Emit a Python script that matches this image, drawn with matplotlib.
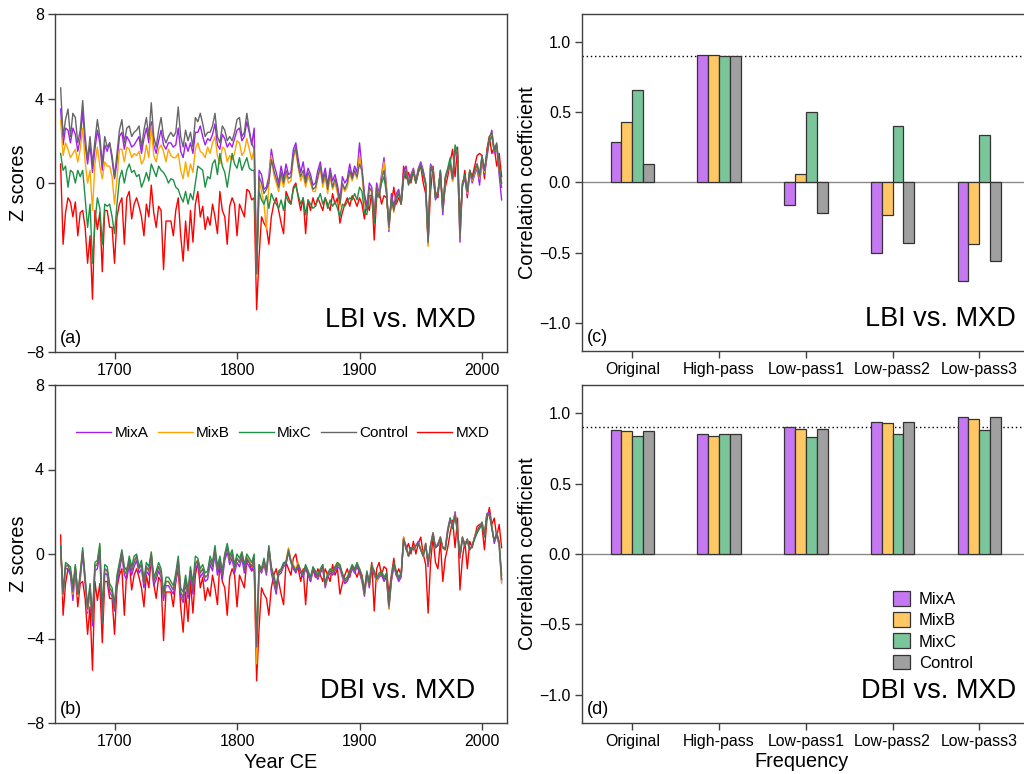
import numpy as np
import matplotlib
matplotlib.use("Agg")
import matplotlib.pyplot as plt
from matplotlib.lines import Line2D
from matplotlib.patches import Patch

plt.rcParams['font.family'] = ['Liberation Sans', 'DejaVu Sans']

# ---------------------------------------------------------------- data
# series every second year, 1656 .. 2016
years = np.arange(1656, 2017, 2)

mxd = [
    0.9, -2.9, -1.4, -0.7, -0.9, -1.6, -0.9, -2.5, -1.4, -1.3,
    -2.1, -3.8, -2.5, -5.5, -1.3, -2.2, -1.4, -4.2, -1.3, -1.3,
    -2.1, -2.1, -3.8, -1.6, -1.0, -0.7, -2.9, -0.7, -0.4, -1.7,
    -1.0, -0.7, -1.1, -1.6, -2.5, -1.0, -1.6, -0.1, -1.4, -2.1,
    -1.1, -1.3, -4.1, -1.8, -1.8, -1.8, -2.5, -1.3, -0.7, -2.5,
    -3.7, -1.8, -3.2, -1.3, -2.8, -1.0, -0.4, -1.6, -1.1, -2.2,
    -1.6, -2.0, -1.0, -1.6, -2.4, -0.4, -1.3, -1.6, -2.9, -1.1,
    -0.7, -1.0, -2.5, -1.0, -1.3, -1.6, -0.3, -0.4, -0.8, -0.7,
    -6.0, -3.5, -1.6, -1.9, -2.1, -2.9, -1.6, -1.0, -0.7, -1.3,
    -1.9, -2.4, -0.4, -0.7, -1.0, -0.2, 0.0, -0.7, -1.3, -0.7,
    -2.4, -0.8, -1.3, -0.7, -1.1, -0.7, -1.0, -1.3, -0.7, -1.0,
    -1.3, -0.5, -1.0, -0.7, -1.9, -1.4, -1.0, -0.7, -1.1, -0.6,
    -0.8, -1.1, -0.7, -1.0, -1.7, -0.9, -1.3, -0.4, -2.7, -0.7,
    -0.4, -1.0, -0.6, -0.7, -1.9, -1.0, -0.2, -1.0, -0.7, -1.0,
    0.8, 0.2, 0.5, 0.0, 0.6, 0.0, 0.5, 0.8, 0.0, -0.5,
    -2.8, -0.4, 0.8, -0.4, -0.7, 0.6, -1.3, -0.2, 0.3, 1.0,
    1.6, 0.3, 1.7, -1.7, -0.2, 0.6, -0.7, 0.6, 0.3, 0.8,
    1.3, 1.4, 1.3, 0.2, 1.6, 2.2, 1.4, 1.7, 0.8, 1.4,
    0.3,
]

# (a) LBI
lbi_control = [
    4.5, 2.2, 3.0, 3.5, 2.2, 3.3, 3.1, 1.9, 2.5, 3.9,
    2.2, 1.1, 2.2, 0.9, 2.0, 3.0, 2.2, 0.9, 2.2, 1.7,
    1.9, 1.3, 0.3, 1.4, 2.5, 3.0, 1.9, 2.6, 2.7, 2.2,
    2.4, 2.5, 2.7, 1.7, 2.5, 3.1, 2.2, 3.8, 2.2, 1.7,
    2.5, 3.1, 2.2, 1.9, 2.2, 2.4, 2.2, 2.4, 3.6, 2.2,
    1.7, 2.5, 2.0, 2.4, 1.7, 3.1, 2.9, 3.3, 2.8, 2.2,
    2.4, 2.4, 2.7, 3.3, 2.2, 1.9, 2.7, 2.5, 2.0, 2.2,
    2.0, 2.4, 3.0, 3.1, 2.2, 2.4, 3.3, 2.5, 1.9, 1.6,
    -4.3, 0.3, 0.0, -0.5, -0.3, 0.0, 1.1, 0.6, 0.2, -0.2,
    0.5, 0.0, 0.6, 0.2, 0.3, 1.3, 1.7, 0.8, 0.3, 0.6,
    0.0, 0.5, 0.2, -0.3, -0.2, 0.3, 0.8, 0.0, 0.5, -0.3,
    0.5, -0.2, 0.2, -0.3, -1.0, 0.0, -0.3, 0.0, 0.6, 0.2,
    0.6, 0.3, 0.9, 0.6, -0.7, -1.3, -0.2, -0.4, -1.6, -0.2,
    -0.7, 0.2, 0.6, -0.4, -2.1, -0.7, -1.3, -0.7, -0.4, -1.0,
    0.3, 0.6, 0.0, 0.3, 0.6, 0.0, 0.6, 0.9, 0.5, 0.0,
    -2.8, 0.8, 0.6, -0.7, -0.4, 0.5, -1.3, 0.2, 0.6, 0.9,
    0.2, 1.6, 1.3, -2.6, 0.0, 0.3, -0.4, 0.6, 0.2, 0.6,
    0.9, 0.3, 1.3, 0.6, 1.4, 2.2, 2.4, 1.6, 1.9, 0.6,
    -0.2,
]
lbi_mixa = [
    3.5, 1.8, 2.6, 2.5, 1.9, 2.6, 2.3, 1.5, 2.1, 3.4,
    1.8, 0.9, 1.8, 0.5, 1.6, 2.5, 1.9, 0.6, 1.8, 1.5,
    1.9, 1.1, 0.2, 1.0, 2.2, 2.4, 1.6, 2.2, 2.0, 1.7,
    1.8, 2.0, 2.2, 1.4, 2.1, 2.6, 1.9, 2.9, 1.8, 1.4,
    2.0, 2.5, 1.8, 1.6, 1.9, 1.9, 1.7, 1.8, 2.6, 1.5,
    1.2, 1.9, 1.5, 1.9, 1.4, 2.4, 2.4, 2.7, 2.2, 1.8,
    2.1, 2.0, 2.3, 2.8, 1.8, 1.6, 2.3, 2.1, 1.7, 1.9,
    1.7, 2.1, 2.5, 2.6, 2.0, 2.2, 2.9, 2.4, 1.8, 2.6,
    -4.2, 0.6, 0.4, -0.3, -0.2, 0.3, 1.6, 0.9, 0.5, 0.0,
    0.8, 0.2, 0.9, 0.4, 0.5, 1.6, 1.9, 1.1, 0.5, 1.0,
    0.2, 0.7, 0.4, -0.1, 0.0, 0.6, 1.0, 0.2, 0.7, -0.1,
    0.7, 0.1, 0.4, -0.1, -0.8, 0.3, 0.0, 0.2, 0.9, 0.3,
    0.8, 0.5, 1.9, 0.7, -0.5, -1.1, 0.0, -0.2, -1.5, 0.0,
    -0.5, 0.4, 1.2, -0.2, -2.3, -0.5, -1.1, -0.5, -0.3, -0.9,
    0.5, 0.8, 0.1, 0.4, 0.7, 0.1, 0.7, 1.0, 0.6, 0.0,
    -2.9, 0.9, 0.6, -0.8, -0.5, 0.5, -1.5, 0.2, 0.6, 0.9,
    0.1, 1.5, 1.2, -2.8, -0.1, 0.2, -0.6, 0.5, 0.0, 0.4,
    0.7, -0.1, 1.1, 0.4, 1.2, 2.0, 2.5, 1.4, 1.7, 0.4,
    -0.8,
]
lbi_mixb = [
    3.0, 1.3, 1.9, 1.6, 1.2, 1.4, 1.6, 1.0, 1.6, 2.6,
    1.0, 0.0, 0.6, -1.3, 0.9, 1.7, 0.8, 0.2, 1.0, 0.8,
    0.8, 0.3, -1.0, 0.2, 1.6, 1.6, 1.0, 1.7, 1.6, 1.2,
    1.4, 1.3, 1.5, 0.9, 1.1, 1.8, 1.2, 2.7, 1.3, 1.0,
    1.6, 1.8, 1.5, 1.0, 1.6, 1.3, 1.2, 1.2, 1.4, 0.6,
    0.2, 1.0, 0.3, 0.9, 0.5, 1.6, 1.9, 1.5, 1.4, 1.2,
    1.7, 1.4, 1.9, 2.2, 1.3, 0.9, 1.7, 1.6, 1.0, 1.3,
    1.1, 1.4, 2.0, 1.9, 1.3, 1.5, 2.1, 1.6, 1.1, 1.6,
    -4.4, 0.1, -0.4, -1.0, -2.2, 0.0, 1.3, 0.4, 0.0, -0.4,
    0.3, -0.2, 0.4, 0.0, 0.1, 1.2, 1.5, 0.7, 0.1, 0.4,
    -0.2, 0.3, 0.0, -0.4, -0.4, 0.2, 0.7, -0.2, 0.3, -0.5,
    0.3, -0.3, 0.0, -0.5, -1.1, -0.1, -0.4, -0.2, 0.5, 0.1,
    0.5, 0.2, 1.3, 0.4, -0.9, -1.3, -0.3, -0.4, -1.7, -0.2,
    -0.6, 0.3, 1.0, -0.3, -2.2, -0.7, -1.4, -0.7, -0.4, -1.0,
    0.3, 0.6, 0.0, 0.3, 0.6, 0.0, 0.6, 0.9, 0.4, 0.0,
    -3.0, 0.8, 0.6, -0.7, -0.4, 0.5, -1.3, 0.2, 0.6, 0.9,
    0.1, 1.6, 1.3, -2.6, 0.0, 0.3, -0.5, 0.6, 0.1, 0.5,
    0.8, 0.2, 1.2, 0.5, 1.4, 2.0, 2.3, 1.5, 1.8, 0.6,
    0.0,
]
lbi_mixc = [
    1.4, 0.6, 0.8, -0.2, 0.6, 0.5, 0.0, 0.6, 0.3, 0.6,
    -0.7, -2.1, -1.0, -3.8, -1.9, -0.7, -1.2, -2.9, -1.0, -1.1,
    -1.0, -1.6, -2.4, -1.0, 0.2, 0.6, 0.0, 0.6, 0.9, 0.5,
    0.6, 0.3, 0.4, -0.2, 0.1, 0.5, 0.1, 0.9, 0.6, 0.3,
    0.8, 0.6, 0.5, 0.3, 0.0, 0.2, 0.15, -0.2, -0.3, -0.65,
    -0.9, -0.4, -1.0, -0.5, -0.8, 0.0, 0.8, 0.7, 0.6, -0.2,
    0.3, 0.2, 0.9, 1.1, 0.4, 1.4, 0.8, 0.5, -0.2, 0.6,
    1.4, 0.9, 0.7, 1.2, 0.6, 0.9, 1.2, 0.7, 0.6, 0.6,
    -4.3, -0.4, -0.8, -1.0, -0.6, -1.2, -0.5, -0.8, -1.0, -1.2,
    -0.8, -1.3, -0.6, -0.9, -1.0, -0.3, -0.1, -0.6, -1.0, -0.7,
    -1.5, -0.8, -1.0, -1.2, -1.1, -0.8, -0.5, -1.0, -0.7, -1.2,
    -0.8, -1.1, -0.9, -1.2, -1.6, -1.0, -1.1, -0.9, -0.7, -0.8,
    -0.5, -0.8, -0.2, -0.4, -1.4, -1.5, -0.6, -0.6, -1.9, -0.5,
    -0.6, 0.0, 0.3, -0.5, -2.0, -0.8, -1.2, -0.8, -0.5, -1.0,
    0.2, 0.5, -0.1, 0.2, 0.5, 0.0, 0.5, 0.8, 0.4, -0.1,
    -2.7, 0.7, 0.5, -0.7, -0.5, 0.6, -1.2, 0.3, 0.7, 1.2,
    0.2, 1.8, 1.5, -2.2, -0.1, 0.4, -0.4, 0.6, 0.2, 0.6,
    0.9, 0.4, 1.3, 0.6, 1.4, 2.0, 2.2, 1.5, 1.8, 0.8,
    0.0,
]

# (b) DBI
dbi_control = [
    0.3, -1.9, -0.6, -0.5, -0.9, -1.8, -0.6, -1.9, -1.0, 0.1,
    -1.2, -2.6, -1.5, -3.2, -0.6, -0.5, 0.2, -3.3, -0.7, -0.8,
    -1.6, -1.8, -2.6, -1.2, -0.6, 0.1, -0.8, -1.0, -0.3, -0.8,
    -0.4, -0.1, -0.7, -0.5, -1.4, -0.6, -0.8, 0.0, -1.3, -1.0,
    -0.6, -0.9, -2.0, -1.3, -1.3, -1.5, -1.7, -1.1, -0.3, -1.8,
    -2.1, -1.2, -1.9, -0.8, -1.7, -0.5, -0.3, -0.9, -0.7, -1.1,
    -1.0, -0.3, -0.6, 0.2, -0.8, -0.3, -1.0, -0.1, 0.3, -0.3,
    0.0, -0.7, -0.2, -0.4, 0.0, -0.7, -0.2, -0.4, -0.6, -0.2,
    -4.4, -0.6, -0.8, -0.3, -0.9, 0.3, -0.7, -1.2, -1.7, -0.9,
    -0.8, -0.5, -0.4, 0.2, -0.3, -0.6, -0.8, -0.5, -0.8, -1.0,
    -0.6, -0.9, -1.2, -0.7, -0.9, -1.1, -0.8, -0.6, -1.5, -1.0,
    -0.8, -0.9, -0.7, -0.5, -0.6, -1.0, -1.3, -1.2, -0.9, -0.6,
    -0.8, -0.5, -0.8, -1.2, -1.9, -0.9, -1.5, -0.6, -0.9, -1.2,
    -1.0, -0.9, -1.2, -1.0, -2.5, -1.2, -0.5, -0.9, -1.2, -1.0,
    0.7, 0.3, -0.1, 0.3, 0.2, 0.4, 0.5, 0.2, -0.1, 0.5,
    -0.5, 0.4, 1.0, 0.3, 0.4, 0.8, 0.3, 0.2, 1.1, 1.6,
    1.3, 1.9, 1.1, -0.1, 0.8, 0.4, 0.7, 0.2, 0.4, 0.8,
    1.1, 1.3, 1.5, 0.9, 1.9, 1.9, 1.3, 0.6, 1.0, 0.5,
    -1.2,
]
dbi_mixa = [
    0.2, -2.0, -0.7, -0.7, -1.0, -2.2, -0.8, -2.0, -1.2, 0.0,
    -1.4, -2.8, -1.7, -3.4, -0.8, -0.7, 0.0, -3.2, -0.9, -1.0,
    -1.8, -2.0, -2.7, -1.4, -0.8, -0.1, -1.0, -1.2, -0.5, -1.0,
    -0.6, -0.3, -0.9, -0.7, -1.6, -0.8, -1.0, -0.2, -1.5, -1.2,
    -0.8, -1.1, -2.2, -1.5, -1.5, -1.7, -1.9, -1.3, -0.5, -2.0,
    -2.3, -1.4, -2.1, -1.0, -1.9, -0.7, -0.5, -1.1, -0.9, -1.3,
    -1.2, -0.5, -0.8, 0.0, -1.0, -0.5, -1.2, -0.3, 0.1, -0.5,
    -0.2, -0.9, -0.4, -0.6, -0.2, -0.9, -0.4, -0.6, -0.8, -0.4,
    -4.8, -0.7, -0.9, -0.5, -1.0, 0.2, -0.9, -1.4, -1.9, -1.0,
    -0.9, -0.6, -0.5, 0.1, -0.4, -0.7, -0.9, -0.6, -0.9, -1.1,
    -0.7, -1.0, -1.3, -0.8, -1.0, -1.2, -0.9, -0.7, -1.6, -1.1,
    -0.9, -1.0, -0.8, -0.6, -0.7, -1.1, -1.4, -1.3, -1.0, -0.7,
    -0.9, -0.6, -0.9, -1.3, -2.0, -1.0, -1.6, -0.7, -1.0, -1.3,
    -1.1, -1.0, -1.3, -1.1, -2.6, -1.3, -0.6, -1.0, -1.3, -1.1,
    0.7, 0.4, -0.1, 0.3, 0.3, 0.4, 0.6, 0.2, -0.1, 0.5,
    -0.6, 0.4, 1.0, 0.3, 0.5, 0.8, 0.3, 0.3, 1.2, 1.7,
    1.3, 2.0, 1.1, -0.2, 0.8, 0.4, 0.7, 0.2, 0.4, 0.8,
    1.0, 1.3, 1.5, 0.9, 1.9, 2.0, 1.3, 0.5, 0.9, 0.4,
    -1.3,
]
dbi_mixb = [
    0.3, -2.0, -0.6, -0.6, -0.8, -1.9, -0.6, -2.0, -1.0, 0.2,
    -1.2, -2.7, -1.6, -3.1, -0.6, -0.4, 0.4, -2.9, -0.7, -0.8,
    -1.6, -1.8, -2.5, -1.1, -0.5, 0.1, -0.8, -0.9, -0.3, -0.7,
    -0.3, -0.1, -0.7, -0.5, -1.4, -0.6, -0.8, 0.0, -1.3, -1.0,
    -0.6, -0.9, -2.0, -1.3, -1.3, -1.5, -1.7, -1.1, -0.3, -1.8,
    -2.0, -1.2, -1.9, -0.8, -1.6, -0.4, -0.3, -0.9, -0.7, -1.1,
    -1.0, -0.3, -0.5, 0.2, -0.7, -0.2, -0.9, 0.0, 0.3, -0.3,
    0.1, -0.7, -0.2, -0.4, 0.1, -0.6, -0.1, -0.3, -0.6, -0.2,
    -5.2, -0.5, -0.8, -0.3, -0.9, 0.3, -0.7, -1.2, -1.7, -0.9,
    -0.8, -0.5, -0.3, 0.3, -0.3, -0.5, -0.7, -0.4, -0.8, -1.0,
    -0.6, -0.8, -1.2, -0.7, -0.8, -1.1, -0.8, -0.5, -1.5, -1.0,
    -0.8, -0.9, -0.7, -0.4, -0.6, -1.0, -1.3, -1.1, -0.9, -0.6,
    -0.8, -0.5, -0.7, -1.2, -1.9, -0.9, -1.5, -0.6, -0.9, -1.3,
    -1.0, -0.9, -1.1, -1.0, -2.6, -1.2, -0.5, -0.9, -1.2, -1.0,
    0.8, 0.3, 0.0, 0.3, 0.2, 0.4, 0.5, 0.3, -0.1, 0.5,
    -0.5, 0.4, 1.0, 0.3, 0.4, 0.8, 0.3, 0.2, 1.1, 1.6,
    1.3, 1.9, 1.1, -0.1, 0.8, 0.4, 0.7, 0.2, 0.4, 0.8,
    1.1, 1.3, 1.5, 0.9, 1.9, 1.9, 1.3, 0.6, 1.0, 0.5,
    -1.4,
]
dbi_mixc = [
    0.4, -1.8, -0.4, -0.5, -0.6, -1.5, -0.5, -1.9, -0.9, 0.3,
    -1.1, -2.5, -1.4, -3.0, -0.4, -0.3, 0.5, -2.6, -0.5, -0.6,
    -1.4, -1.6, -2.4, -1.0, -0.4, 0.2, -0.6, -0.8, -0.1, -0.6,
    -0.1, 0.0, -0.6, -0.3, -1.2, -0.4, -0.6, 0.1, -1.1, -0.8,
    -0.4, -0.7, -1.8, -1.1, -1.1, -1.3, -1.5, -0.9, -0.1, -1.6,
    -1.8, -1.0, -1.7, -0.6, -1.4, -0.1, -0.2, -0.7, -0.5, -0.9,
    -0.8, -0.1, -0.4, 0.4, -0.6, -0.1, -0.8, 0.0, 0.5, -0.1,
    0.2, -0.5, 0.0, -0.2, 0.1, -0.5, 0.0, -0.2, -0.4, 0.0,
    -4.2, -0.5, -0.7, -0.2, -0.8, 0.4, -0.6, -1.0, -1.5, -0.8,
    -0.7, -0.4, -0.4, 0.1, -0.4, -0.6, -0.8, -0.5, -0.8, -0.9,
    -0.5, -0.8, -1.1, -0.6, -0.8, -1.0, -0.7, -0.5, -1.4, -0.9,
    -0.7, -0.8, -0.6, -0.4, -0.5, -0.9, -1.2, -1.1, -0.8, -0.5,
    -0.7, -0.4, -0.7, -1.1, -1.8, -0.8, -1.4, -0.5, -0.8, -1.1,
    -0.9, -0.8, -1.1, -0.9, -2.4, -1.1, -0.4, -0.8, -1.1, -0.9,
    0.7, 0.3, -0.1, 0.3, 0.2, 0.4, 0.5, 0.2, -0.1, 0.4,
    -0.4, 0.4, 0.9, 0.3, 0.4, 0.7, 0.3, 0.2, 1.0, 1.7,
    1.2, 1.8, 1.0, -0.1, 0.7, 0.4, 0.6, 0.2, 0.4, 0.7,
    1.0, 1.2, 1.4, 0.8, 1.8, 1.9, 1.2, 0.6, 1.0, 0.6,
    -1.0,
]

# correlation bars
freq_bands = ["Original", "High-pass", "Low-pass1", "Low-pass2", "Low-pass3"]
corr_lbi = {
    "MixA":    [0.29, 0.91, -0.16, -0.50, -0.70],
    "MixB":    [0.43, 0.91, 0.06, -0.23, -0.44],
    "MixC":    [0.66, 0.90, 0.50, 0.40, 0.34],
    "Control": [0.13, 0.90, -0.22, -0.43, -0.56],
}
corr_dbi = {
    "MixA":    [0.88, 0.85, 0.90, 0.94, 0.97],
    "MixB":    [0.87, 0.84, 0.89, 0.93, 0.96],
    "MixC":    [0.84, 0.85, 0.83, 0.85, 0.88],
    "Control": [0.87, 0.85, 0.89, 0.94, 0.97],
}
threshold = 0.9

# ---------------------------------------------------------------- style
line_colors = {"MixA": "#A020F0", "MixB": "#FFA500", "MixC": "#1E9146",
               "Control": "#666666", "MXD": "#FF0000"}
bar_colors = {"MixA": "#C678F2", "MixB": "#FFC864", "MixC": "#7AC59A",
              "Control": "#A0A0A0"}
spine_col = "#404040"
tick_fs = 11.4
label_fs = 14.3

fig = plt.figure(figsize=(10.24, 7.74), dpi=100)
W, H = 1024.0, 774.0


def add_ax(l, t, r, b):
    return fig.add_axes([l / W, 1 - b / H, (r - l) / W, (b - t) / H])


def style_ax(ax):
    for s in ax.spines.values():
        s.set_color(spine_col)
        s.set_linewidth(1.0)
    ax.tick_params(direction='out', length=5, width=1.0, color=spine_col,
                   labelsize=tick_fs, pad=3)


ax_a = add_ax(55, 14, 507, 352)
ax_b = add_ax(55, 385, 507, 723)
ax_c = add_ax(582, 14, 1030, 351)
ax_d = add_ax(582, 385, 1030, 723)

# ---------------------------------------------------------------- time series
def plot_series(ax, series, tag, title):
    ax.plot(years, mxd, color=line_colors["MXD"], lw=1.0)
    for name in ["MixA", "MixB", "MixC", "Control"]:
        ax.plot(years, series[name], color=line_colors[name], lw=1.0)
    ax.set_xlim(1651.4, 2020.4)
    ax.set_ylim(-8, 8)
    ax.set_yticks([-8, -4, 0, 4, 8])
    ax.set_xticks([1700, 1800, 1900, 2000])
    style_ax(ax)
    ax.set_ylabel("Z scores", fontsize=label_fs)
    ax.yaxis.set_label_coords(-0.060, 0.5)
    ax.text(0.01, 0.015, tag, transform=ax.transAxes, fontsize=13,
            ha='left', va='bottom')
    ax.text(0.93, 0.055, title, transform=ax.transAxes, fontsize=19.5,
            ha='right', va='bottom')


plot_series(ax_a, {"MixA": lbi_mixa, "MixB": lbi_mixb, "MixC": lbi_mixc,
                   "Control": lbi_control}, "(a)", "LBI vs. MXD")
plot_series(ax_b, {"MixA": dbi_mixa, "MixB": dbi_mixb, "MixC": dbi_mixc,
                   "Control": dbi_control}, "(b)", "DBI vs. MXD")
ax_b.set_xlabel("Year CE", fontsize=label_fs)
ax_b.xaxis.set_label_coords(0.5, -0.088)

handles = [Line2D([], [], color=line_colors[n], lw=1.0)
           for n in ["MixA", "MixB", "MixC", "Control", "MXD"]]
ax_b.legend(handles, ["MixA", "MixB", "MixC", "Control", "MXD"], ncol=5,
            loc='center', bbox_to_anchor=(0.504, 0.857), frameon=False,
            fontsize=11, handlelength=2.3, handletextpad=0.2,
            columnspacing=0.6, borderpad=0)

# ---------------------------------------------------------------- bars
xpos = np.arange(len(freq_bands))
bw = 0.125


def plot_bars(ax, corr, tag, title):
    ax.axhline(0, color="#8a8a8a", lw=1.0, zorder=1)
    ax.axhline(threshold, color="black", lw=1.0, ls=(0, (1, 2)), zorder=1)
    for i, name in enumerate(["MixA", "MixB", "MixC", "Control"]):
        ax.bar(xpos + (i - 1.5) * bw, corr[name], width=bw,
               color=bar_colors[name], edgecolor="#333333", lw=0.9,
               zorder=2, label=name)
    ax.set_xlim(-0.58, 4.584)
    ax.set_ylim(-1.2, 1.2)
    ax.set_yticks([-1.0, -0.5, 0.0, 0.5, 1.0])
    ax.set_xticks(xpos)
    ax.set_xticklabels(freq_bands)
    style_ax(ax)
    ax.set_ylabel("Correlation coefficient", fontsize=label_fs)
    ax.yaxis.set_label_coords(-0.100, 0.5)
    ax.text(0.01, 0.015, tag, transform=ax.transAxes, fontsize=13,
            ha='left', va='bottom')
    ax.text(0.968, 0.055, title, transform=ax.transAxes, fontsize=19.5,
            ha='right', va='bottom')


plot_bars(ax_c, corr_lbi, "(c)", "LBI vs. MXD")
plot_bars(ax_d, corr_dbi, "(d)", "DBI vs. MXD")
ax_d.set_xlabel("Frequency", fontsize=label_fs)
ax_d.xaxis.set_label_coords(0.49, -0.087)

bar_handles = [Patch(facecolor=bar_colors[n], edgecolor="#333333", lw=0.9)
               for n in ["MixA", "MixB", "MixC", "Control"]]
ax_d.legend(bar_handles, ["MixA", "MixB", "MixC", "Control"],
            loc='upper left', bbox_to_anchor=(0.676, 0.415), frameon=False,
            fontsize=12, handlelength=1.0, handleheight=1.0,
            handletextpad=0.55, labelspacing=0.3, borderpad=0)

fig.savefig("out.png", dpi=100)
